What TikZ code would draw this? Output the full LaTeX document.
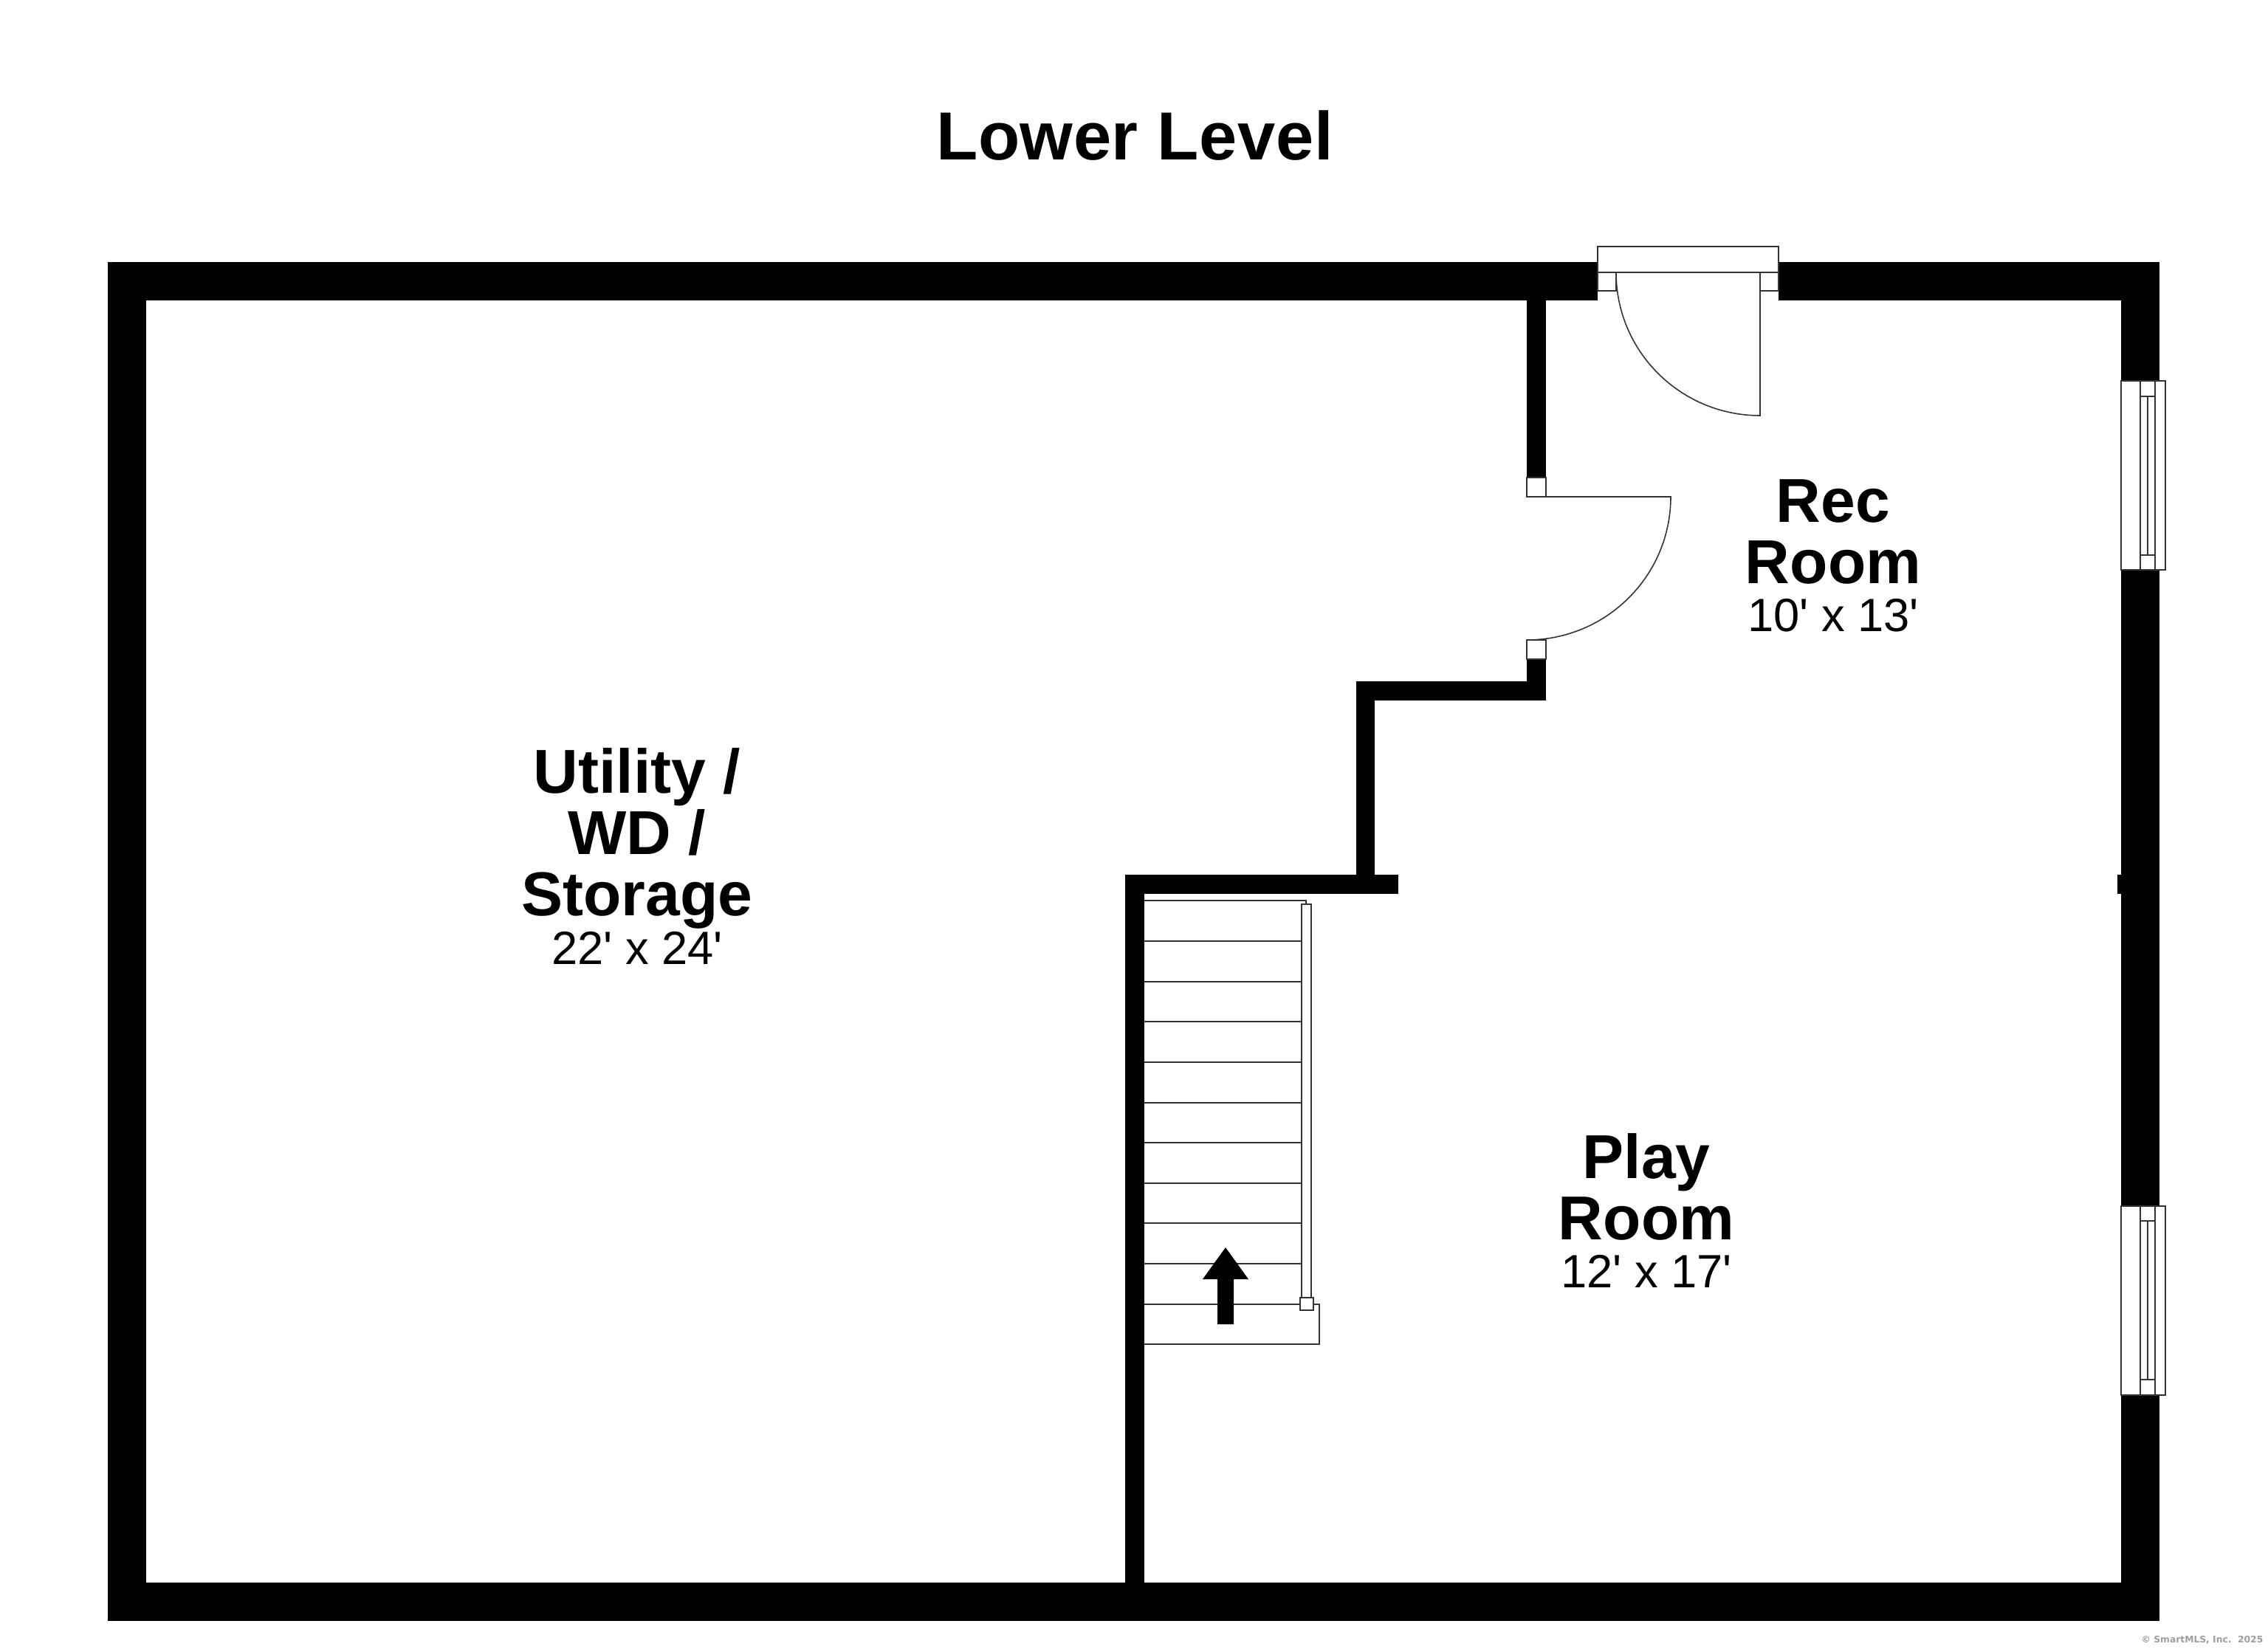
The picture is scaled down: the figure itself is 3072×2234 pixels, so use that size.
\documentclass[tikz,border=0pt]{standalone}
\usepackage{fontspec}
\newfontfamily\labfont{Liberation Sans}
\newfontfamily\markfont{DejaVu Sans}
\definecolor{thin}{gray}{0.2}
\tikzset{
  x=0.01cm,y=-0.01cm,
  wall/.style={fill=black,draw=none},
  fine/.style={draw=thin,line width=0.45pt},
  finefill/.style={draw=thin,line width=0.45pt,fill=white},
  glass/.style={draw=thin,line width=0.55pt,fill=white},
  title/.style={inner sep=0pt,font=\labfont\bfseries\addfontfeature{LetterSpace=0.6}\fontsize{26.2}{30}\selectfont},
  roomlabel/.style={inner sep=0pt,align=center,font=\labfont\bfseries\fontsize{23.9}{23.6}\selectfont}
}
\newcommand{\dimtext}[1]{{\labfont\mdseries\fontsize{18}{20}\selectfont #1}}
\begin{document}
\begin{tikzpicture}
\useasboundingbox (0,0) rectangle (3072,2234);
\fill[white] (0,0) rectangle (3072,2234);
% outer walls
\fill[wall] (146,355) rectangle (2164,407);
\fill[wall] (2409,355) rectangle (2925,407);
\fill[wall] (146,355) rectangle (198,2196);
\fill[wall] (146,2144) rectangle (2925,2196);
\fill[wall] (2873,355) rectangle (2925,2196);
\fill[wall] (2868,1185) rectangle (2873,1211);
% inner walls
\fill[wall] (2068,407) rectangle (2094,647);
\fill[wall] (2068,893) rectangle (2094,949);
\fill[wall] (1837,923) rectangle (2094,949);
\fill[wall] (1837,923) rectangle (1862,1185);
\fill[wall] (1524,1185) rectangle (1894,1211);
\fill[wall] (1524,1185) rectangle (1550,2144);
% entrance door
\draw[finefill] (2164,334) rectangle (2409,369);
\draw[finefill] (2164,369) rectangle (2189,394);
\draw[finefill] (2384,369) rectangle (2409,394);
\draw[fine] (2384,369) -- (2384,563) arc[start angle=270,end angle=180,x radius=195,y radius=-194];
% interior door
\draw[finefill] (2068,647) rectangle (2094,673);
\draw[finefill] (2068,867) rectangle (2094,893);
\draw[fine] (2094,673) -- (2263,673) arc[start angle=0,end angle=-90,x radius=195,y radius=-194];
% windows
\foreach \t/\b/\p/\q in {516/772/537/752,1634/1890/1654/1869}{
  \draw[glass] (2873,\t) rectangle (2933,\b);
  \draw[glass] (2899,\t) -- (2899,\b) (2919,\t) -- (2919,\b);
  \draw[glass] (2899,\p) -- (2919,\p) (2899,\q) -- (2919,\q);
  \draw[glass] (2909,\p) -- (2909,\q);
}
% stairs
\draw[fine] (1550,1220) -- (1769,1220) -- (1769,1225);
\foreach \y in {1275,1330,1384,1439,1494,1548,1603,1657,1712}{
  \draw[fine] (1550,\y) -- (1763,\y);
}
\draw[fine] (1550,1767) -- (1787,1767) -- (1787,1821) -- (1550,1821);
\draw[finefill] (1763,1225) rectangle (1776,1758);
\draw[finefill] (1761,1758) rectangle (1779,1775);
\fill[black] (1660,1690) -- (1691,1733) -- (1671,1733) -- (1671,1794) -- (1649,1794) -- (1649,1733) -- (1629,1733) -- cycle;
% labels
\node[title] (ttl) at (1537,184) {Lower Level};
\node[roomlabel] (util) at (863,1160) {Utility /\\WD /\\Storage\\[-5pt]\dimtext{22' x 24'}};
\node[roomlabel] (rec) at (2483,753) {Rec\\Room\\[-5pt]\dimtext{10' x 13'}};
\node[roomlabel] (play) at (2230,1640) {Play\\Room\\[-5pt]\dimtext{12' x 17'}};
\node[inner sep=0pt,anchor=east,text=black!38,font=\markfont\bfseries\fontsize{3.5}{5}\selectfont] (copy) at (3066,2222) {© SmartMLS, Inc.\ \ 2025};
\end{tikzpicture}
\end{document}
